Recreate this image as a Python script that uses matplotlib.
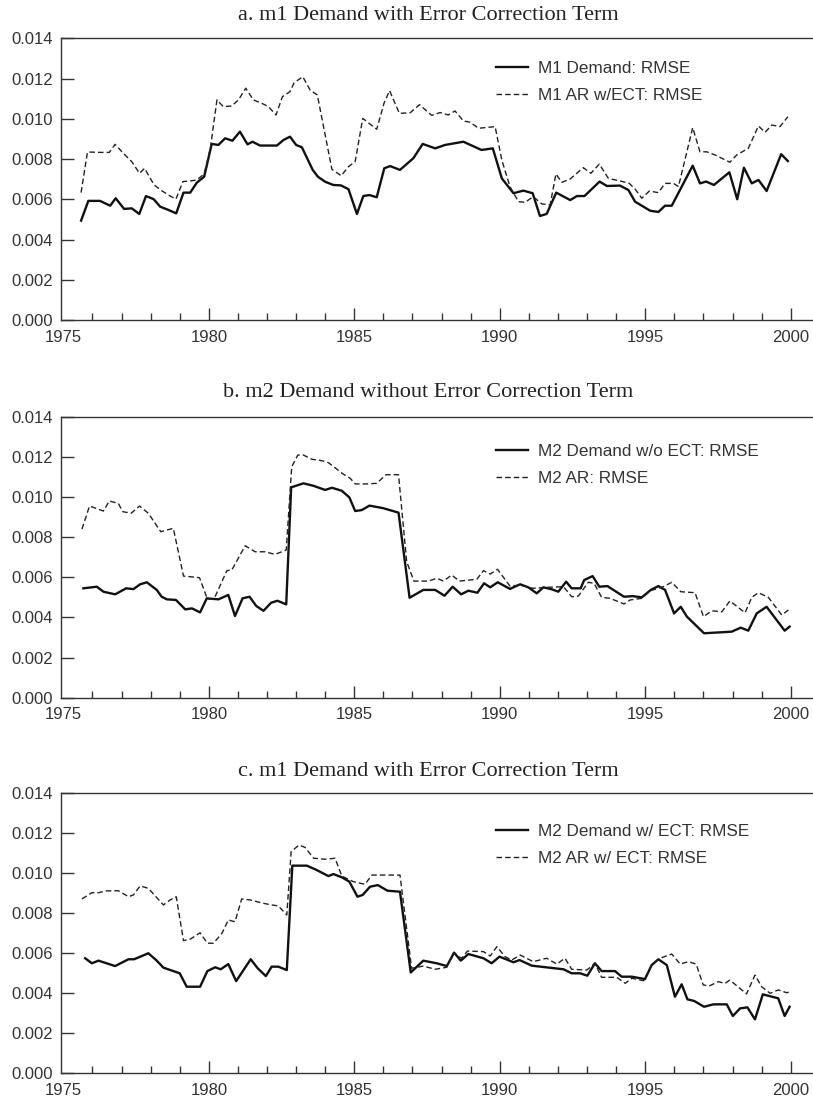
import matplotlib
matplotlib.use("Agg")
import matplotlib.pyplot as plt
from matplotlib.ticker import MultipleLocator, FormatStrFormatter

# ---- data (values in units of 0.001) ----
a_solid_x = [1975.61, 1975.86, 1976.26, 1976.61, 1976.80, 1977.09, 1977.35, 1977.61, 1977.84, 1978.10,
             1978.33, 1978.61, 1978.88, 1979.13, 1979.36, 1979.59, 1979.84, 1980.10, 1980.33, 1980.56,
             1980.81, 1981.07, 1981.33, 1981.50, 1981.76, 1982.05, 1982.34, 1982.57, 1982.79, 1983.00,
             1983.20, 1983.57, 1983.75, 1984.00, 1984.28, 1984.54, 1984.80, 1985.09, 1985.31, 1985.52,
             1985.77, 1986.03, 1986.23, 1986.57, 1987.03, 1987.35, 1987.78, 1988.12, 1988.75, 1989.37,
             1989.76, 1990.07, 1990.47, 1990.81, 1991.13, 1991.38, 1991.61, 1991.94, 1992.42, 1992.65,
             1992.91, 1993.43, 1993.68, 1994.13, 1994.42, 1994.65, 1994.88, 1995.17, 1995.45, 1995.68,
             1995.91, 1996.63, 1996.88, 1997.09, 1997.36, 1997.89, 1998.16, 1998.39, 1998.66, 1998.89,
             1999.17, 1999.67, 1999.90]
a_solid_y = [4.94, 5.92, 5.92, 5.68, 6.05, 5.52, 5.55, 5.27, 6.16, 6.01,
             5.63, 5.47, 5.30, 6.33, 6.33, 6.83, 7.12, 8.75, 8.70, 9.03,
             8.91, 9.36, 8.73, 8.86, 8.67, 8.67, 8.67, 8.95, 9.11, 8.70,
             8.58, 7.46, 7.12, 6.87, 6.71, 6.69, 6.50, 5.27, 6.16, 6.21,
             6.10, 7.54, 7.65, 7.46, 8.04, 8.75, 8.53, 8.70, 8.86, 8.45,
             8.53, 7.04, 6.30, 6.43, 6.30, 5.17, 5.27, 6.33, 5.96, 6.16,
             6.16, 6.88, 6.66, 6.68, 6.46, 5.88, 5.68, 5.43, 5.37, 5.68,
             5.68, 7.67, 6.79, 6.88, 6.71, 7.34, 6.00, 7.57, 6.79, 6.96,
             6.41, 8.24, 7.90]

a_dash_x = [1975.61, 1975.83, 1976.26, 1976.58, 1976.78, 1977.04, 1977.35, 1977.62, 1977.79, 1978.12,
            1978.38, 1978.61, 1978.87, 1979.11, 1979.36, 1979.59, 1979.84, 1980.05, 1980.28, 1980.50,
            1980.79, 1981.02, 1981.27, 1981.53, 1981.82, 1982.05, 1982.31, 1982.53, 1982.79, 1982.93,
            1983.23, 1983.48, 1983.73, 1984.23, 1984.55, 1984.80, 1985.03, 1985.29, 1985.77, 1986.02,
            1986.21, 1986.55, 1986.92, 1987.24, 1987.66, 1987.95, 1988.23, 1988.46, 1988.75, 1988.98,
            1989.27, 1989.49, 1989.84, 1990.07, 1990.35, 1990.64, 1990.87, 1991.15, 1991.44, 1991.73,
            1991.93, 1992.13, 1992.42, 1992.87, 1993.13, 1993.42, 1993.73, 1994.13, 1994.45, 1994.65,
            1994.88, 1995.14, 1995.45, 1995.68, 1995.97, 1996.14, 1996.63, 1996.88, 1997.11, 1997.40,
            1997.91, 1998.14, 1998.54, 1998.89, 1999.12, 1999.35, 1999.63, 1999.90]
a_dash_y = [6.33, 8.35, 8.33, 8.33, 8.73, 8.32, 7.87, 7.29, 7.54, 6.71,
            6.43, 6.21, 6.01, 6.88, 6.91, 6.96, 7.26, 8.50, 10.94, 10.60,
            10.64, 10.94, 11.52, 10.94, 10.77, 10.60, 10.19, 11.10, 11.35, 11.79,
            12.09, 11.43, 11.18, 7.49, 7.17, 7.62, 7.87, 10.02, 9.48, 10.77,
            11.40, 10.27, 10.30, 10.70, 10.17, 10.31, 10.19, 10.39, 9.89, 9.83,
            9.53, 9.56, 9.61, 7.95, 6.63, 5.88, 5.85, 6.13, 5.77, 5.72,
            7.26, 6.84, 7.01, 7.57, 7.29, 7.75, 7.04, 6.91, 6.79, 6.51,
            6.05, 6.41, 6.33, 6.79, 6.79, 6.63, 9.56, 8.36, 8.36, 8.20,
            7.84, 8.20, 8.53, 9.64, 9.33, 9.69, 9.61, 10.10]

b_solid_x = [1975.69, 1976.15, 1976.38, 1976.78, 1977.16, 1977.41, 1977.64, 1977.87, 1978.21, 1978.38,
             1978.56, 1978.87, 1979.19, 1979.42, 1979.70, 1979.93, 1980.33, 1980.67, 1980.90, 1981.16,
             1981.40, 1981.63, 1981.88, 1982.14, 1982.36, 1982.66, 1982.83, 1983.25, 1983.59, 1984.00,
             1984.23, 1984.57, 1984.83, 1985.03, 1985.26, 1985.52, 1986.00, 1986.52, 1986.90, 1987.37,
             1987.78, 1988.10, 1988.38, 1988.67, 1988.92, 1989.23, 1989.46, 1989.67, 1989.93, 1990.35,
             1990.70, 1990.98, 1991.27, 1991.50, 1991.79, 1992.01, 1992.28, 1992.47, 1992.78, 1992.90,
             1993.19, 1993.42, 1993.70, 1994.27, 1994.57, 1994.88, 1995.19, 1995.45, 1995.68, 1995.99,
             1996.22, 1996.43, 1997.02, 1997.97, 1998.28, 1998.54, 1998.83, 1999.17, 1999.79, 1999.96]
b_solid_y = [5.45, 5.53, 5.28, 5.15, 5.45, 5.41, 5.65, 5.75, 5.37, 5.03,
             4.90, 4.87, 4.40, 4.45, 4.25, 4.95, 4.90, 5.12, 4.07, 4.95,
             5.03, 4.57, 4.33, 4.73, 4.83, 4.65, 10.48, 10.68, 10.56, 10.35,
             10.46, 10.31, 9.98, 9.30, 9.35, 9.57, 9.44, 9.22, 4.98, 5.37,
             5.37, 5.08, 5.53, 5.15, 5.33, 5.23, 5.70, 5.50, 5.75, 5.42,
             5.65, 5.50, 5.20, 5.50, 5.40, 5.28, 5.78, 5.45, 5.45, 5.86,
             6.06, 5.53, 5.56, 5.03, 5.06, 5.00, 5.37, 5.56, 5.37, 4.20,
             4.53, 4.04, 3.21, 3.29, 3.49, 3.34, 4.20, 4.53, 3.34, 3.54]

b_dash_x = [1975.64, 1975.90, 1976.38, 1976.58, 1976.89, 1977.04, 1977.33, 1977.62, 1977.92, 1978.35,
            1978.78, 1979.13, 1979.68, 1979.95, 1980.18, 1980.62, 1980.79, 1981.25, 1981.59, 1981.93,
            1982.28, 1982.66, 1982.85, 1983.06, 1983.25, 1983.54, 1983.88, 1984.11, 1984.62, 1984.86,
            1985.03, 1985.43, 1985.77, 1986.09, 1986.52, 1986.80, 1987.05, 1987.55, 1987.84, 1988.06,
            1988.35, 1988.61, 1989.21, 1989.44, 1989.67, 1989.92, 1990.35, 1990.70, 1991.15, 1991.62,
            1992.19, 1992.47, 1992.70, 1993.04, 1993.24, 1993.50, 1993.79, 1994.27, 1994.48, 1994.88,
            1995.17, 1995.62, 1995.91, 1996.22, 1996.71, 1997.00, 1997.29, 1997.63, 1997.91, 1998.43,
            1998.66, 1998.89, 1999.23, 1999.69, 1999.92]
b_dash_y = [8.40, 9.55, 9.30, 9.80, 9.68, 9.27, 9.19, 9.55, 9.19, 8.27,
            8.44, 6.06, 5.98, 4.92, 4.92, 6.33, 6.36, 7.57, 7.27, 7.27,
            7.14, 7.36, 11.51, 12.09, 12.09, 11.88, 11.81, 11.71, 11.14, 10.93,
            10.65, 10.65, 10.68, 11.11, 11.11, 6.78, 5.81, 5.81, 5.95, 5.81,
            6.11, 5.81, 5.90, 6.33, 6.16, 6.40, 5.56, 5.61, 5.45, 5.50,
            5.53, 5.03, 5.06, 5.75, 5.70, 5.00, 4.95, 4.67, 4.87, 4.95,
            5.33, 5.53, 5.75, 5.28, 5.23, 4.04, 4.33, 4.28, 4.82, 4.23,
            5.00, 5.23, 5.00, 4.12, 4.37]

c_solid_x = [1975.75, 1975.98, 1976.21, 1976.78, 1977.24, 1977.43, 1977.70, 1977.92, 1978.19, 1978.44,
             1979.00, 1979.24, 1979.70, 1979.95, 1980.22, 1980.41, 1980.67, 1980.94, 1981.44, 1981.68,
             1981.96, 1982.16, 1982.39, 1982.68, 1982.87, 1983.37, 1983.71, 1984.11, 1984.28, 1984.57,
             1984.83, 1985.11, 1985.29, 1985.54, 1985.81, 1986.14, 1986.57, 1986.94, 1987.37, 1987.83,
             1988.18, 1988.43, 1988.66, 1988.92, 1989.44, 1989.72, 1989.99, 1990.47, 1990.68, 1991.10,
             1992.19, 1992.47, 1992.76, 1993.01, 1993.27, 1993.50, 1993.96, 1994.19, 1994.54, 1994.99,
             1995.22, 1995.45, 1995.74, 1996.02, 1996.25, 1996.45, 1996.68, 1997.02, 1997.34, 1997.80,
             1998.01, 1998.26, 1998.51, 1998.77, 1999.04, 1999.57, 1999.79, 1999.96]
c_solid_y = [5.74, 5.49, 5.62, 5.35, 5.69, 5.69, 5.85, 5.99, 5.65, 5.27,
             4.99, 4.32, 4.32, 5.10, 5.29, 5.19, 5.45, 4.60, 5.69, 5.24,
             4.85, 5.32, 5.32, 5.15, 10.36, 10.36, 10.14, 9.84, 9.94, 9.78,
             9.56, 8.81, 8.90, 9.31, 9.39, 9.11, 9.06, 5.03, 5.62, 5.49,
             5.35, 6.02, 5.62, 5.95, 5.74, 5.49, 5.82, 5.54, 5.65, 5.37,
             5.19, 4.99, 4.99, 4.87, 5.49, 5.10, 5.10, 4.82, 4.82, 4.70,
             5.40, 5.69, 5.40, 3.82, 4.44, 3.69, 3.61, 3.32, 3.44, 3.44,
             2.86, 3.24, 3.29, 2.69, 3.94, 3.74, 2.86, 3.32]

c_dash_x = [1975.64, 1975.98, 1976.21, 1976.44, 1976.89, 1977.24, 1977.41, 1977.64, 1977.92, 1978.44,
            1978.67, 1978.88, 1979.13, 1979.36, 1979.70, 1979.95, 1980.16, 1980.45, 1980.67, 1980.90,
            1981.13, 1981.42, 1981.88, 1982.16, 1982.39, 1982.68, 1982.83, 1983.10, 1983.31, 1983.60,
            1984.00, 1984.34, 1984.57, 1984.97, 1985.37, 1985.60, 1986.00, 1986.57, 1986.92, 1986.97,
            1987.37, 1987.78, 1988.18, 1988.40, 1988.69, 1988.89, 1989.44, 1989.67, 1989.90, 1990.18,
            1990.41, 1990.70, 1991.15, 1991.61, 1991.96, 1992.24, 1992.47, 1992.99, 1993.27, 1993.50,
            1994.02, 1994.31, 1994.54, 1994.94, 1995.22, 1995.51, 1995.91, 1996.20, 1996.48, 1996.75,
            1996.99, 1997.20, 1997.51, 1997.74, 1997.91, 1998.48, 1998.77, 1999.00, 1999.29, 1999.57,
            1999.86, 1999.98]
c_dash_y = [8.70, 9.01, 9.01, 9.10, 9.11, 8.81, 8.90, 9.35, 9.23, 8.40,
            8.65, 8.81, 6.62, 6.69, 7.01, 6.49, 6.49, 6.98, 7.65, 7.56,
            8.70, 8.65, 8.48, 8.40, 8.35, 7.90, 11.06, 11.39, 11.27, 10.73,
            10.68, 10.73, 9.84, 9.56, 9.43, 9.89, 9.89, 9.89, 5.82, 5.24,
            5.35, 5.19, 5.29, 5.99, 5.74, 6.10, 6.07, 5.85, 6.32, 5.82,
            5.65, 5.90, 5.57, 5.74, 5.45, 5.74, 5.19, 5.15, 5.49, 4.79,
            4.79, 4.49, 4.74, 4.62, 5.40, 5.74, 5.95, 5.45, 5.57, 5.45,
            4.41, 4.36, 4.57, 4.49, 4.65, 3.96, 4.90, 4.32, 3.99, 4.16,
            4.02, 4.07]

year_ticks = [1975, 1980, 1985, 1990, 1995, 2000]
minor_years = [y for y in range(1976, 2001) if y % 5 != 0]

titles = ["a. m1 Demand with Error Correction Term",
          "b. m2 Demand without Error Correction Term",
          "c. m1 Demand with Error Correction Term"]
labels = [("M1 Demand: RMSE", "M1 AR w/ECT: RMSE"),
          ("M2 Demand w/o ECT: RMSE", "M2 AR: RMSE"),
          ("M2 Demand w/ ECT: RMSE", "M2 AR w/ ECT: RMSE")]
series = [(a_solid_x, a_solid_y, a_dash_x, a_dash_y),
          (b_solid_x, b_solid_y, b_dash_x, b_dash_y),
          (c_solid_x, c_solid_y, c_dash_x, c_dash_y)]

plt.rcParams['font.family'] = ['Liberation Sans', 'DejaVu Sans']
fig = plt.figure(figsize=(8.13, 11), dpi=100)

W, H = 813.0, 1100.0
tops = [38.3, 416.7, 792.7]
bottoms = [320.0, 697.7, 1073.3]
leg_y = [0.845, 0.828, 0.814]
leg_sp = [0.75, 0.7, 0.7]
title_y = [16, 392, 771]
grey = '#333333'

for i in range(3):
    ax = fig.add_axes([61 / W, 1 - bottoms[i] / H, (812 - 61) / W, (bottoms[i] - tops[i]) / H])
    sx, sy, dx, dy = series[i]
    ax.plot(sx, [v / 1000 for v in sy], color='#111111', lw=1.7, label=labels[i][0])
    ax.plot(dx, [v / 1000 for v in dy], color='#222222', lw=1.0, dashes=(4, 2.2), label=labels[i][1])
    ax.set_xlim(1974.92, 2000.73)
    ax.set_ylim(0, 0.014)
    ax.set_xticks(year_ticks)
    ax.set_xticks(minor_years, minor=True)
    ax.yaxis.set_major_locator(MultipleLocator(0.002))
    ax.yaxis.set_major_formatter(FormatStrFormatter('%.3f'))
    ax.spines['right'].set_visible(False)
    for s in ['left', 'top', 'bottom']:
        ax.spines[s].set_color(grey)
        ax.spines[s].set_linewidth(1.0)
    ax.tick_params(axis='y', direction='in', length=9, width=1.0, color=grey,
                   labelsize=12, labelcolor=grey, pad=6)
    ax.tick_params(axis='x', which='major', direction='in', length=9, width=1.0, color=grey,
                   labelsize=12, labelcolor=grey, pad=7)
    ax.tick_params(axis='x', which='minor', direction='in', length=5, width=1.0, color=grey)
    # the 1975 tick sits right against the y spine; hide its mark
    ax.xaxis.get_major_ticks()[0].tick1line.set_visible(False)
    ax.legend(loc='center left', bbox_to_anchor=(0.579, leg_y[i]), frameon=False,
              fontsize=12.3, handlelength=1.9, handletextpad=0.55, labelspacing=leg_sp[i],
              borderpad=0, borderaxespad=0, labelcolor=grey)
    fig.text(428 / W, 1 - title_y[i] / H, titles[i], ha='center', va='center',
             family='Liberation Serif', fontsize=16, color='#222222')

fig.savefig("out.png", dpi=100)
